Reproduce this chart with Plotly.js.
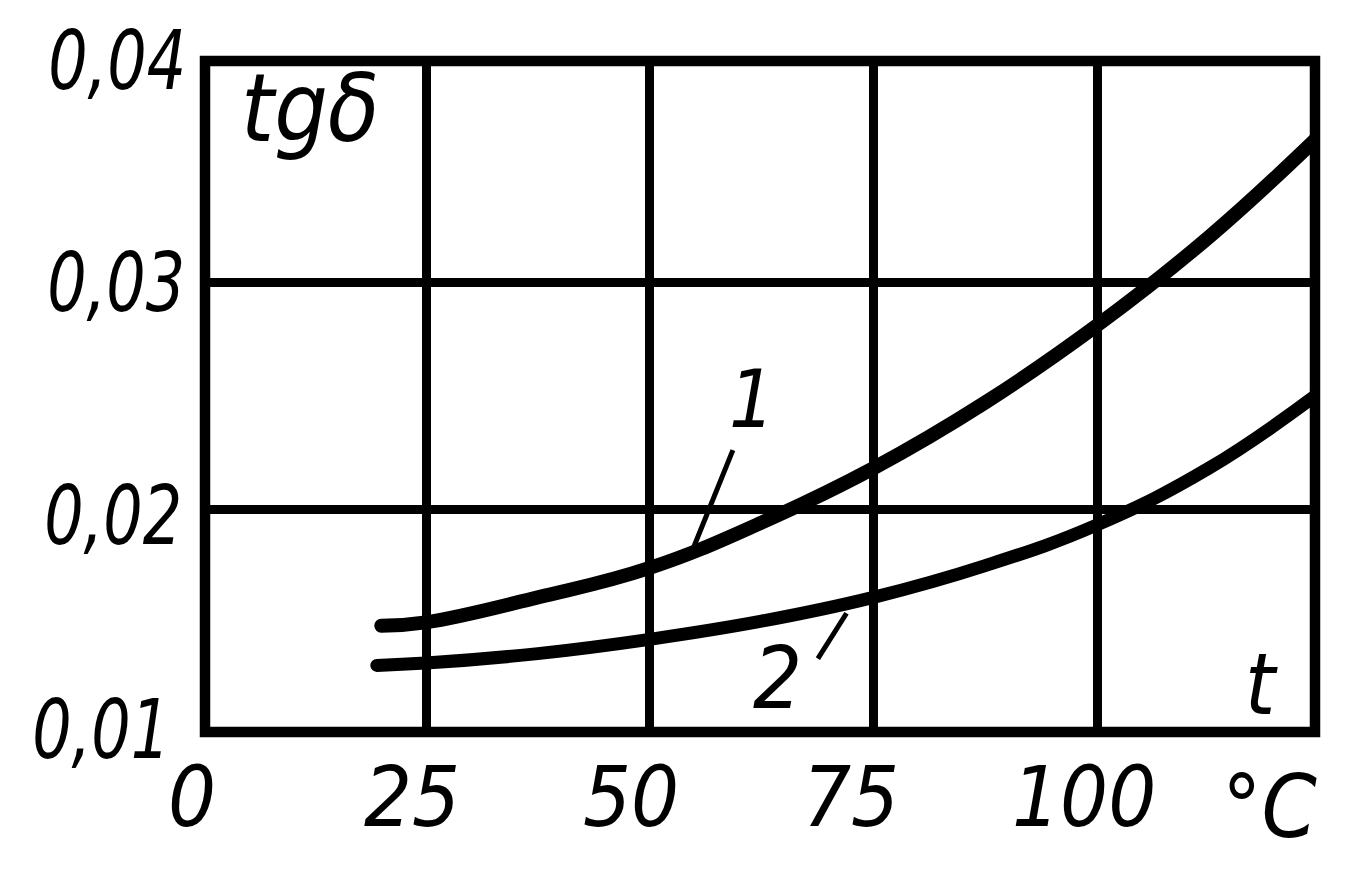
<!DOCTYPE html>
<html><head><meta charset="utf-8">
<script src="https://cdn.plot.ly/plotly-3.0.1.min.js"></script>
<style>
html,body{margin:0;padding:0;background:#fff;}
#chart{width:1360px;height:876px;}
.js-line{stroke-linecap:round !important;stroke-linejoin:round !important;}
</style></head><body><div id="chart"></div>
<script>
// ---- data ----
const curve1T  = [20, 25, 37.5, 50, 62.5, 75, 87.5, 100, 112.5, 124.4];
const curve1Tg = [0.01485, 0.0150, 0.0161, 0.0174, 0.0194, 0.0218, 0.0247, 0.0281, 0.0320, 0.0363];
const curve2T  = [19.5, 25, 37.5, 50, 62.5, 75, 87.5, 100, 112.5, 124.4];
const curve2Tg = [0.0131, 0.0132, 0.01362, 0.01425, 0.01505, 0.0161, 0.0175, 0.0193, 0.0218, 0.0250];
const curveNames = ['1', '2'];
const xTickVals = [0, 25, 50, 75, 100];
const xTickText = ['0', '25', '50', '75', '100'];
const yTickVals = [0.04, 0.03, 0.02, 0.01];
const yTickText = ['0,04', '0,03', '0,02', '0,01'];
const xGridVals = [25, 50, 75, 100];
const yGridVals = [0.02, 0.03];
// leader lines: [curve point t, curve point tg, free end t, free end tg]
const leader1 = [54.8, 0.0182, 59.3, 0.0226];
const leader2 = [72.0, 0.0154, 68.8, 0.0134];

// ---- layout constants ----
const L = 205, T = 61, W = 1110, H = 671;
const xRange = [0.3, 124.36];
const yRange = [0.01016, 0.03977];
const FONT = 'DejaVu Sans Condensed, DejaVu Sans, sans-serif';
const px2paperX = p => (p - L) / W;
const px2paperY = p => (T + H - p) / H;
const v2paperX = v => (v - xRange[0]) / (xRange[1] - xRange[0]);
const v2paperY = v => (v - yRange[0]) / (yRange[1] - yRange[0]);

function txt(text, x, y, size, extra) {
  return Object.assign({
    text: text, xref: 'paper', yref: 'paper', x: x, y: y,
    xanchor: 'center', yanchor: 'middle', showarrow: false,
    font: {family: FONT, size: size, color: '#000', style: 'italic'}
  }, extra || {});
}

const annotations = [];
// y tick labels (pixel offsets of the hand lettering)
const yLabelX = [117, 116, 113, 101];
const yLabelDy = [5, 0, 6, -6];
yTickVals.forEach((v, i) => {
  annotations.push(txt(yTickText[i], px2paperX(yLabelX[i]), v2paperY(v), 82, {yshift: -yLabelDy[i]}));
});
// x tick labels
const xLabelDx = [-10, -14, -19, -22, -13];
xTickVals.forEach((v, i) => {
  annotations.push(txt(xTickText[i], v2paperX(v), px2paperY(797), 84, {xshift: xLabelDx[i]}));
});
annotations.push(txt('°C', px2paperX(1270), px2paperY(806), 88));
annotations.push(txt('tgδ', px2paperX(310), px2paperY(109), 94));
annotations.push(txt('t', px2paperX(1261), px2paperY(684), 86));
annotations.push(txt(curveNames[0], px2paperX(752), px2paperY(400), 80));
annotations.push(txt(curveNames[1], px2paperX(778), px2paperY(678), 86));

const traces = [
  {x: curve1T, y: curve1Tg, name: curveNames[0], mode: 'lines', type: 'scatter',
   line: {color: '#000', width: 14, shape: 'spline', smoothing: 1.2}},
  {x: curve2T, y: curve2Tg, name: curveNames[1], mode: 'lines', type: 'scatter',
   line: {color: '#000', width: 13, shape: 'spline', smoothing: 1.2}}
];

const shapes = [
  {type: 'rect', xref: 'paper', yref: 'paper', x0: 0, x1: 1, y0: 0, y1: 1,
   line: {color: '#000', width: 10.5}, layer: 'above'},
  {type: 'line', xref: 'x', yref: 'y', x0: leader1[0], y0: leader1[1], x1: leader1[2], y1: leader1[3],
   line: {color: '#000', width: 5}},
  {type: 'line', xref: 'x', yref: 'y', x0: leader2[0], y0: leader2[1], x1: leader2[2], y1: leader2[3],
   line: {color: '#000', width: 5}}
];

const layout = {
  width: 1360, height: 876,
  margin: {l: L, r: 1360 - L - W, t: T, b: 876 - T - H, pad: 0},
  paper_bgcolor: '#fff', plot_bgcolor: '#fff',
  showlegend: false,
  xaxis: {range: xRange, tickmode: 'array', tickvals: xGridVals, showticklabels: false,
          ticks: '', showgrid: true, gridcolor: '#000', gridwidth: 9, zeroline: false, showline: false},
  yaxis: {range: yRange, tickmode: 'array', tickvals: yGridVals, showticklabels: false,
          ticks: '', showgrid: true, gridcolor: '#000', gridwidth: 9, zeroline: false, showline: false},
  annotations: annotations,
  shapes: shapes
};

Plotly.newPlot('chart', traces, layout, {staticPlot: true, displayModeBar: false}).then(gd => {
  // the hand-lettered y labels are narrower than the font: condense them around their centre
  document.querySelectorAll('.annotation-text').forEach(el => {
    if (yTickText.indexOf(el.textContent) >= 0) {
      el.style.transformBox = 'fill-box';
      el.style.transformOrigin = 'center';
      el.style.transform = 'scaleX(0.84)';
    }
  });
});
</script></body></html>
